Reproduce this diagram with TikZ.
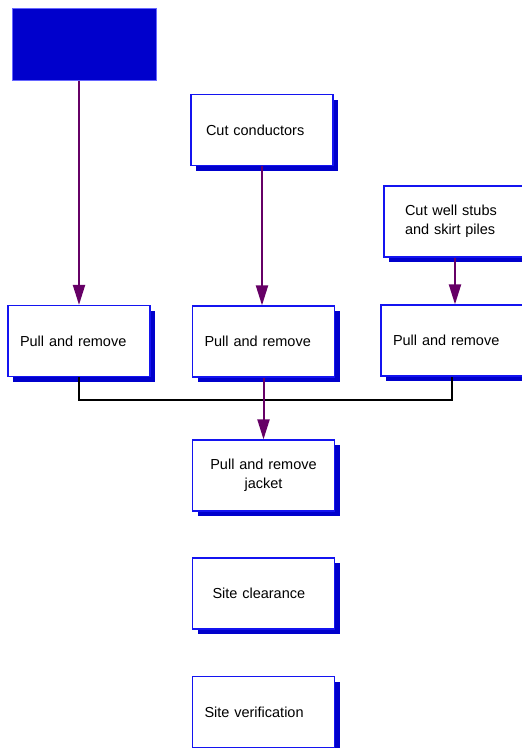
\documentclass[tikz,border=0pt]{standalone}
\usepackage{fontspec}
\setmainfont{Liberation Sans}
\usepackage{tikz}
\usetikzlibrary{arrows.meta,shadows}

\definecolor{boxblue}{RGB}{20,20,240}
\definecolor{shadowblue}{RGB}{0,0,204}
\definecolor{flowpurple}{RGB}{102,0,102}
\newcommand\boxfont{\fontsize{14.5}{19}\selectfont}

\tikzset{
  stepbox/.style={draw=boxblue, line width=1.2pt, fill=white,
    minimum width=142pt, minimum height=71pt, inner xsep=12pt,
    text width=118pt, align=left, font=\boxfont,
    drop shadow={shadow xshift=5pt, shadow yshift=-5pt, fill=shadowblue, opacity=1}},
  flow/.style={draw=flowpurple, line width=2pt, -{Triangle[width=12pt,length=20pt]}},
  busline/.style={draw=black, line width=1.5pt}
}

\begin{document}
\begin{tikzpicture}[x=1pt,y=1pt]
    \useasboundingbox (0,0) rectangle (522,-748);

    % Top row
    \node[draw=blue!60, line width=1pt, fill=shadowblue, minimum width=144pt, minimum height=72pt] (src) at (84,-44) {};
    \node[stepbox, inner xsep=15pt, text width=112pt] (cut) at (262,-130) {Cut conductors};
    \node[stepbox, inner xsep=21pt, text width=100pt] (stubs) at (455,-221.5) {Cut well stubs\\and skirt piles};

    % Pull and remove row
    \node[stepbox] (p1) at (79,-341) {Pull and remove};
    \node[stepbox] (p2) at (263.5,-341.5) {Pull and remove};
    \node[stepbox] (p3) at (452,-340.5) {Pull and remove};

    % Lower column
    \node[stepbox, align=center, inner xsep=9pt, text width=118pt] (jacket) at (263.5,-475.5) {Pull and remove\\jacket};
    \node[stepbox, inner xsep=20pt, text width=102pt] (clear) at (263.5,-593.5) {Site clearance};
    \node[stepbox] (verif) at (263.5,-712) {Site verification};

    % Connectors
    \draw[flow] (src.south -| p1) -- (p1.north);
    \draw[flow] (cut.south) -- (cut.south |- p2.north);
    \draw[flow] (stubs.south) -- (stubs.south |- p3.north);
    \draw[busline] (p1.south) -- ++(0,-23) -| (p3.south);
    \draw[flow] (p2.south) -- (jacket.north);
\end{tikzpicture}
\end{document}
